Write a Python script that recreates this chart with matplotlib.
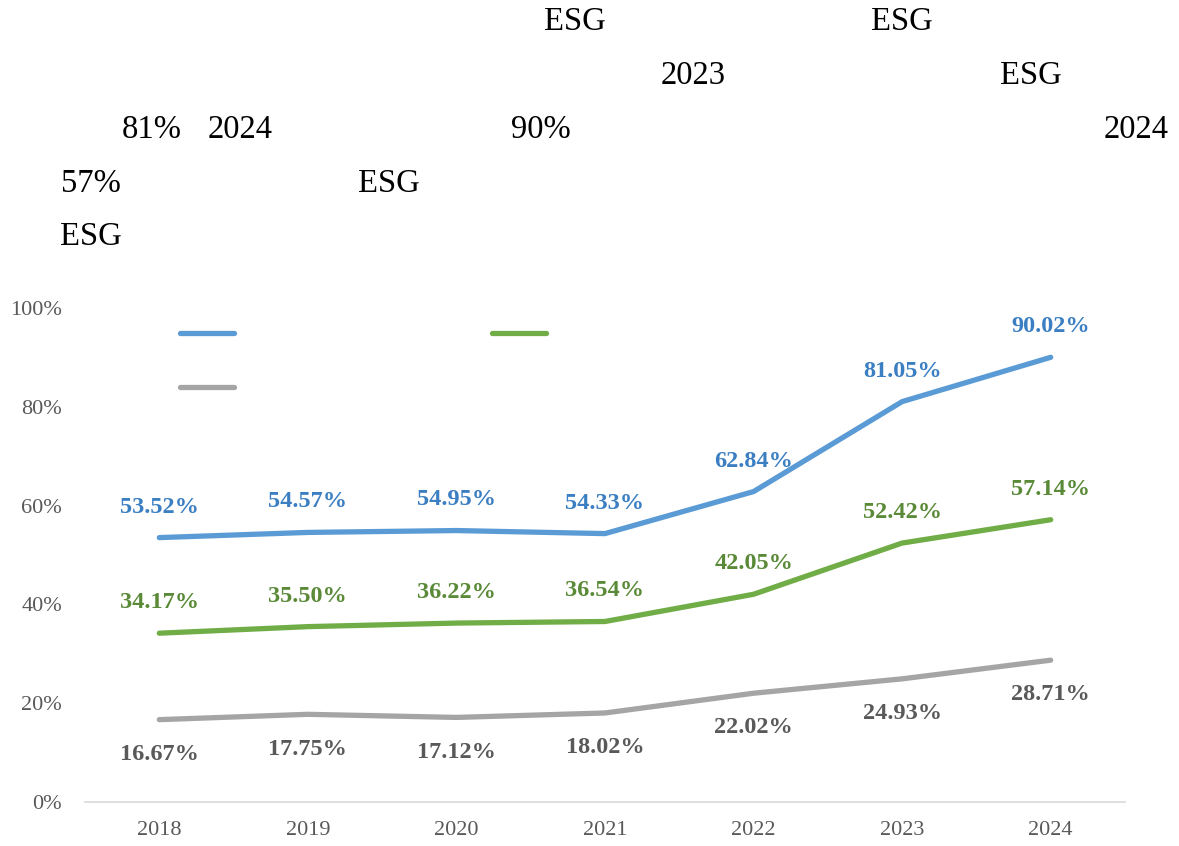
import matplotlib
matplotlib.use("Agg")
import matplotlib.pyplot as plt
from matplotlib.lines import Line2D

plt.rcParams['font.family'] = ['Liberation Serif', 'DejaVu Serif']

years = ['2018', '2019', '2020', '2021', '2022', '2023', '2024']
blue_vals = [53.52, 54.57, 54.95, 54.33, 62.84, 81.05, 90.02]
green_vals = [34.17, 35.50, 36.22, 36.54, 42.05, 52.42, 57.14]
gray_vals = [16.67, 17.75, 17.12, 18.02, 22.02, 24.93, 28.71]
yticks = [0, 20, 40, 60, 80, 100]

# text fragments left over from the title paragraph (x px, y px, text)
header_bits = [
    (575, 22, 'ESG'), (902, 22, 'ESG'),
    (693, 76, '2023'), (1031, 76, 'ESG'),
    (152, 130, '81%'), (240, 130, '2024'), (541, 130, '90%'), (1136, 130, '2024'),
    (91, 184, '57%'), (389, 184, 'ESG'),
    (91, 237, 'ESG'),
]

W, H = 1179, 846
fig = plt.figure(figsize=(W / 100, H / 100), dpi=100)
ax = fig.add_axes([85 / W, 1 - 802 / H, 1040 / W, 494 / H])

series = [
    (blue_vals, '#5b9bd5', '#3b7fc2', 22),
    (green_vals, '#70ad47', '#5a8a38', 22),
    (gray_vals, '#a5a5a5', '#595959', -25),
]
x = list(range(len(years)))
for vals, c, lc, dy in series:
    ax.plot(x, vals, color=c, lw=3.8, solid_capstyle='round', solid_joinstyle='round')
    for xi, v in zip(x, vals):
        ax.annotate(f'{v:.2f}%', (xi, v), xytext=(0, dy), textcoords='offset points',
                    ha='center', va='center', fontsize=17.5, fontweight='bold', color=lc)

ax.set_xlim(-0.5, 6.5)
ax.set_ylim(0, 100)
ax.set_xticks(x)
ax.set_xticklabels(years)
ax.set_yticks(yticks)
ax.set_yticklabels([f'{t}%' for t in yticks])
ax.tick_params(length=0, labelsize=16, labelcolor='#595959')
ax.tick_params(axis='x', pad=14)
ax.tick_params(axis='y', pad=16.5)
for s in ['top', 'right', 'left']:
    ax.spines[s].set_visible(False)
ax.spines['bottom'].set_color('#d9d9d9')
ax.spines['bottom'].set_linewidth(1.2)

handles = [Line2D([], [], color=c, lw=3.8, solid_capstyle='round') for _, c, _, _ in series]
# legend labels were non-rendered glyphs in the reference
fig.legend([handles[0], handles[2], handles[1]], [' ', ' ', ' '], ncol=2, frameon=False,
           loc='upper left', bbox_to_anchor=(162 / W, 1 - 309 / H),
           fontsize=14, handlelength=2.8, handletextpad=0.5, columnspacing=12.5,
           labelspacing=1.85)

for px, py, t in header_bits:
    fig.text(px / W, 1 - py / H, t, ha='center', va='center', fontsize=23.5, color='black')

fig.savefig('out.png', dpi=100)
